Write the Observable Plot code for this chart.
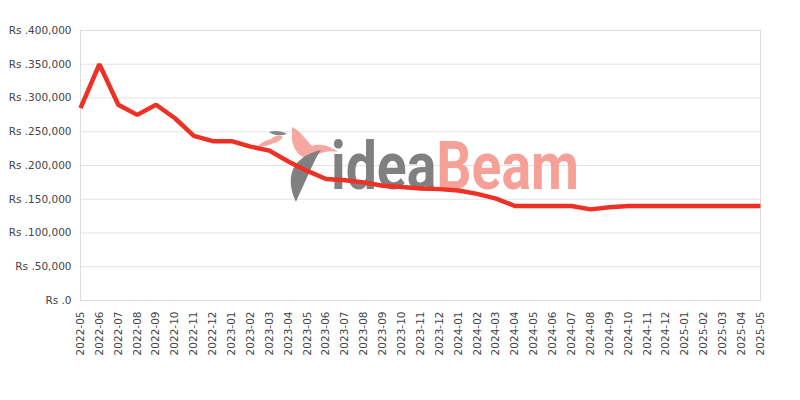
<!DOCTYPE html>
<html>
<head>
<meta charset="utf-8">
<script src="https://cdn.jsdelivr.net/npm/d3@7"></script>
<script src="https://cdn.jsdelivr.net/npm/@observablehq/plot@0.6"></script>
<style>
  html, body { margin: 0; padding: 0; background: #fff; }
  #chart svg { display: block; }
</style>
</head>
<body>
<div id="chart"></div>
<script>
const months = ["2022-05","2022-06","2022-07","2022-08","2022-09","2022-10","2022-11","2022-12",
  "2023-01","2023-02","2023-03","2023-04","2023-05","2023-06","2023-07","2023-08","2023-09","2023-10","2023-11","2023-12",
  "2024-01","2024-02","2024-03","2024-04","2024-05","2024-06","2024-07","2024-08","2024-09","2024-10","2024-11","2024-12",
  "2025-01","2025-02","2025-03","2025-04","2025-05"];
const prices = [285000,350000,290000,275000,290000,270000,244000,236000,
  236000,228000,222000,206000,192000,180000,178000,175000,170000,168000,166000,165000,
  163000,158000,151000,140000,140000,140000,140000,135000,138000,140000,140000,140000,
  140000,140000,140000,140000,140000];
const yTicks = [0,50000,100000,150000,200000,250000,300000,350000,400000];

const data = months.map((m, i) => ({month: m, price: prices[i]}));
const fmt = d3.format(",");
const font = "'DejaVu Sans', sans-serif";

const chart = Plot.plot({
  width: 800,
  height: 400,
  marginLeft: 80,
  marginRight: 40,
  marginTop: 30,
  marginBottom: 100,
  style: {fontFamily: font, fontSize: "10.5px", color: "#444", background: "transparent"},
  x: {type: "point", domain: months, padding: 0, label: null},
  y: {domain: [0, 400000], label: null},
  marks: [
    Plot.gridY(yTicks, {stroke: "#e3e3e3", strokeOpacity: 1}),
    Plot.frame({stroke: "#dcdcdc"}),
    Plot.axisY(yTicks, {tickSize: 0, tickPadding: 9, tickFormat: d => "Rs ." + fmt(d), fill: "#444"}),
    Plot.axisX({tickSize: 0, tickPadding: 11, tickRotate: -90, fill: "#444"}),
    Plot.line(data, {x: "month", y: "price", stroke: "#ee3124", strokeWidth: 4.5, strokeLinejoin: "miter", strokeLinecap: "butt"})
  ]
});

// watermark, drawn behind the line
const ns = "http://www.w3.org/2000/svg";
const wm = document.createElementNS(ns, "g");
wm.setAttribute("opacity", "0.95");
wm.setAttribute("text-anchor", "start");
wm.innerHTML = `
  <path d="M292,127 C300,130 306,140 312,146 C320,143 330,146 338,152 C328,150 320,152 312,158 C302,160 294,152 292,140 Z" fill="#f7a39b"/>
  <path d="M258,146 C264,140 272,138 279,139 C274,144 266,147 258,146 Z" fill="#f7a39b"/>
  <path d="M269,142 C273,136 278,134 283,137 C279,142 274,145 269,142 Z" fill="#f7a39b"/>
  <path d="M269,132 C275,130 282,131 287,134 C281,136 274,136 269,132 Z" fill="#808080"/>
  <path d="M296,202 C290,190 288,175 296,164 C303,156 312,152 321,150 C314,160 310,172 304,184 C301,191 298,196 296,202 Z" fill="#7a7a7a"/>
  <text x="331" y="189" text-anchor="start" font-family="Roboto, sans-serif" font-weight="700" font-size="67" textLength="248" lengthAdjust="spacingAndGlyphs"><tspan fill="#7a7a7a">idea</tspan><tspan fill="#f69c93">Beam</tspan></text>
`;
const lineG = chart.querySelector('g[aria-label="line"]');
lineG.parentNode.insertBefore(wm, lineG);

document.getElementById("chart").appendChild(chart);
</script>
</body>
</html>
